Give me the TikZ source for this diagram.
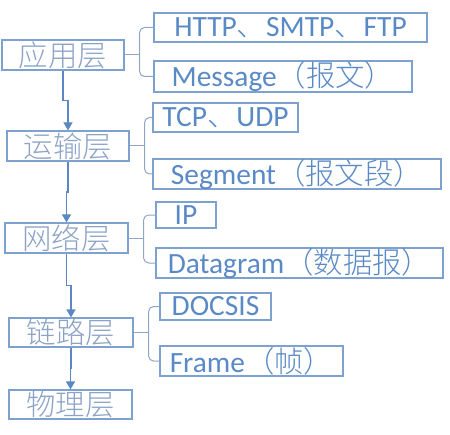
\documentclass[tikz,border=0pt]{standalone}
\usepackage{fontspec}
\setmainfont{Carlito}
\newfontfamily\cjk{Noto Sans CJK SC}[UprightFont=* Light]
\newcommand{\zh}[1]{{\cjk #1}}
\usetikzlibrary{arrows.meta,calc}
\definecolor{boxblue}{HTML}{7EA2D0}
\definecolor{textblue}{HTML}{5A8AC6}
\definecolor{layertext}{HTML}{8CA3C7}
\definecolor{linegray}{HTML}{8FA6C4}
\definecolor{arrowblue}{HTML}{5B87C2}
\tikzset{
  layer/.style={draw=boxblue, line width=1.2bp, inner sep=0pt, minimum width=122bp,
    minimum height=30bp, text=layertext, font=\cjk\fontsize{29.5}{29.5}\selectfont},
  item/.style={draw=boxblue, line width=1.2bp, inner sep=0pt, minimum height=29bp,
    text=textblue, font=\fontsize{29.5}{29.5}\selectfont},
  brace/.style={draw=linegray, line width=1bp, rounded corners=5bp},
  down/.style={draw=arrowblue, line width=1.2bp, -{Triangle[length=8bp,width=9bp]},
    to path={(\tikztostart.south) |- ($(\tikztostart.south)!0.5!(\tikztotarget.north)$)
      -| (\tikztotarget.north)}}
}
\begin{document}
\begin{tikzpicture}[x=1bp,y=-1bp]
\useasboundingbox (0,0) rectangle (450,435);
% layers
\node[layer] (app) at (63,55){应用层};
\node[layer] (trans) at (68,146){运输层};
\node[layer, minimum width=123bp] (net) at (66.5,238){网络层};
\node[layer, minimum width=124bp, minimum height=29bp] (link) at (71,332.5){链路层};
\node[layer, minimum width=123bp, minimum height=29bp] (phys) at (70.5,404.5){物理层};
% protocols and data units
\node[item, minimum width=273bp] (http) at (290.5,27.5){HTTP\zh{、}SMTP\zh{、}FTP};
\node[item, minimum width=258bp, minimum height=31bp] (msg) at (283,76.5){Message\zh{（报文）}};
\node[item, minimum width=145bp] (tcp) at (225.5,117.5){TCP\zh{、}UDP};
\node[item, minimum width=288bp, minimum height=30bp] (seg) at (297,174){Segment\zh{（报文段）}};
\node[item, minimum width=60bp, minimum height=26bp] (ip) at (186,215){IP};
\node[item, minimum width=287bp, minimum height=30bp] (dgram) at (299.5,263){Datagram\zh{（数据报）}};
\node[item, minimum width=111bp, minimum height=27bp] (docsis) at (215.5,306.5){DOCSIS};
\node[item, minimum width=183bp, minimum height=30bp] (frame) at (251.5,361){Frame\zh{（帧）}};
\foreach \lay/\up/\low in {app/http/msg,trans/tcp/seg,net/ip/dgram,link/docsis/frame}
{
  \coordinate (\lay fork) at ($(\lay.east)+(15,0)$);
  \draw[brace] (\up.west) -| (\lay fork) |- (\low.west);
  \draw[brace] (\lay.east) -- (\lay fork);
}
\foreach \from/\to in {app/trans,trans/net,net/link,link/phys}
\draw[down] (\from) to (\to);
\end{tikzpicture}
\end{document}
